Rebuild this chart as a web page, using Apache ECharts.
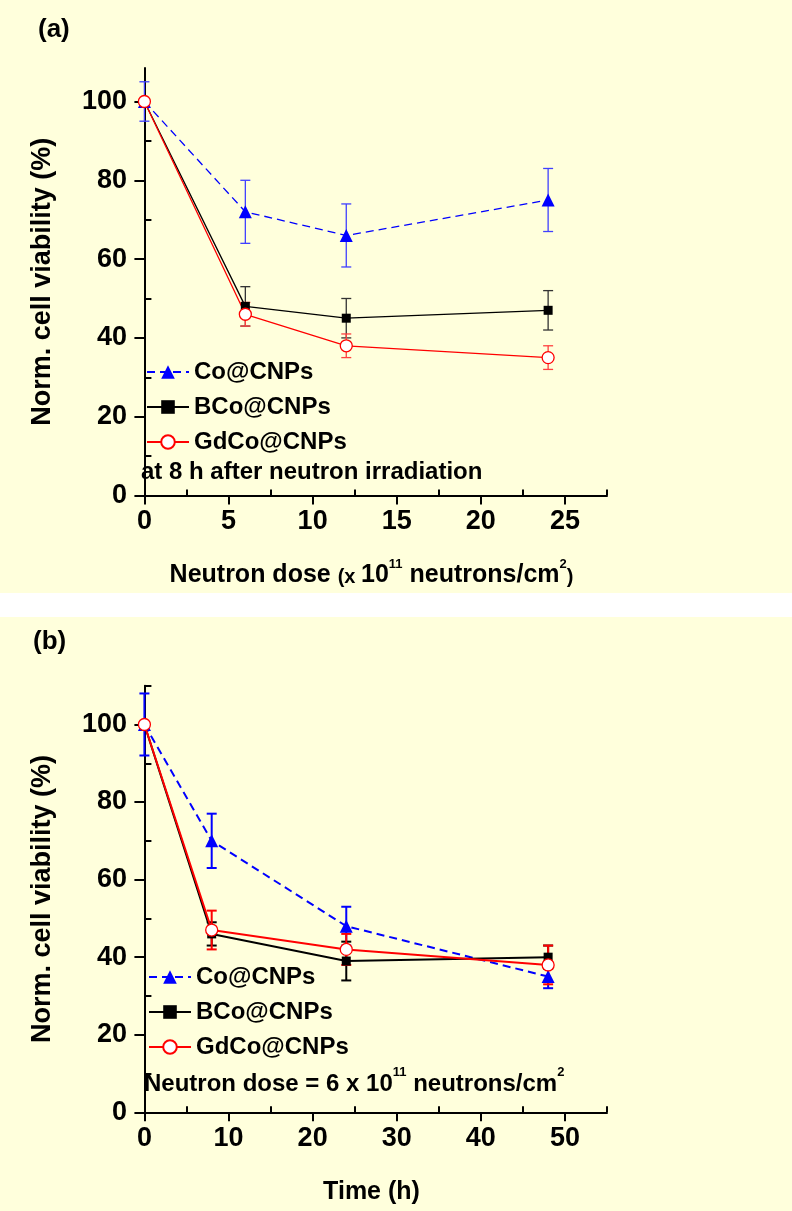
<!DOCTYPE html>
<html>
<head>
<meta charset="utf-8">
<script src="https://cdn.jsdelivr.net/npm/echarts@6/dist/echarts.min.js"></script>
<style>html,body{margin:0;padding:0;background:#fff}#c{width:792px;height:1211px}</style>
</head>
<body>
<div id="c"></div>
<script>
// ---- Panel (a): viability vs neutron dose (x 10^11 n/cm^2), 8 h after irradiation
const doseA = [0, 6, 12, 24];
const coA = [100, 72, 66, 75];
const coAErr = [5, 8, 8, 8];
const bcoA = [100, 48, 45, 47];
const bcoAErr = [0, 5, 5, 5];
const gdA = [100, 46, 38, 35];
const gdAErr = [0, 3, 3, 3];

// ---- Panel (b): viability vs time (h), dose 6 x 10^11 n/cm^2
const timeB = [0, 8, 24, 48];
const coB = [100, 70, 48, 35];
const coBErr = [8, 7, 5, 3];
const bcoB = [100, 46, 39, 40];
const bcoBErr = [0, 3, 5, 3];
const gdB = [100, 47, 42, 38];
const gdBErr = [0, 5, 4, 5];

// ---- Tick labels
const yTicks = [0, 20, 40, 60, 80, 100];
const yMinorA = [10, 30, 50, 70, 90];
const yMinorB = [10, 30, 50, 70, 90, 110];
const xTicksA = [0, 5, 10, 15, 20, 25];
const xMinorA = [2.5, 7.5, 12.5, 17.5, 22.5, 27.5];
const xTicksB = [0, 10, 20, 30, 40, 50];
const xMinorB = [5, 15, 25, 35, 45, 55];

const names = ['Co@CNPs', 'BCo@CNPs', 'GdCo@CNPs'];

const FONT = "'Liberation Sans', Arial, sans-serif";
const BG = '#FFFFDC';

const pairs = (xs, ys) => xs.map((x, i) => [x, ys[i]]);
const errs = (xs, ys, es) => xs.map((x, i) => [x, ys[i] - es[i], ys[i] + es[i]]).filter((d, i) => es[i] > 0);

function errSeries(xi, yi, data, color, width, cap) {
  return {
    type: 'custom', xAxisIndex: xi, yAxisIndex: yi, z: 1, silent: true,
    data: data,
    renderItem: function (params, api) {
      const x = api.value(0);
      const top = api.coord([x, api.value(2)]);
      const bot = api.coord([x, api.value(1)]);
      const st = { stroke: color, lineWidth: width };
      return {
        type: 'group',
        children: [
          { type: 'line', shape: { x1: top[0], y1: top[1], x2: bot[0], y2: bot[1] }, style: st },
          { type: 'line', shape: { x1: top[0] - cap, y1: top[1], x2: top[0] + cap, y2: top[1] }, style: st },
          { type: 'line', shape: { x1: bot[0] - cap, y1: bot[1], x2: bot[0] + cap, y2: bot[1] }, style: st }
        ]
      };
    }
  };
}

function lineSeries(name, xi, yi, data, kind, w) {
  const s = {
    name: name, type: 'line', xAxisIndex: xi, yAxisIndex: yi, z: 3,
    data: data, showSymbol: true
  };
  if (kind === 0) {
    s.symbol = 'triangle'; s.symbolSize = 13;
    s.lineStyle = { color: '#0000FF', width: w, type: [8, 5] };
    s.itemStyle = { color: '#0000FF' };
  } else if (kind === 1) {
    s.symbol = 'rect'; s.symbolSize = 9;
    s.lineStyle = { color: '#000000', width: w };
    s.itemStyle = { color: '#000000' };
  } else {
    s.symbol = 'circle'; s.symbolSize = 12;
    s.lineStyle = { color: '#FF0000', width: w };
    s.itemStyle = { color: '#FFFFFF', borderColor: '#FF0000', borderWidth: 1.3 };
  }
  return s;
}

const axLine = { show: true, lineStyle: { color: '#000', width: 2 } };
const lblStyle = { color: '#000', fontFamily: FONT, fontWeight: 'bold', fontSize: 27 };

function yMajor(gi, max, nameGap) {
  return {
    type: 'value', gridIndex: gi, min: 0, max: max,
    axisLine: axLine,
    axisTick: { show: true, length: 10, lineStyle: { color: '#000', width: 2 }, customValues: yTicks },
    axisLabel: Object.assign({ margin: 9, customValues: yTicks }, lblStyle),
    splitLine: { show: false },
    name: 'Norm. cell viability (%)', nameLocation: 'middle', nameRotate: 90, nameGap: nameGap,
    nameTextStyle: { color: '#000', fontFamily: FONT, fontWeight: 'bold', fontSize: 27 }
  };
}
function yMinor(gi, max, vals) {
  return {
    type: 'value', gridIndex: gi, min: 0, max: max,
    axisLine: { show: false },
    axisTick: { show: true, length: 7, lineStyle: { color: '#000', width: 2 }, customValues: vals },
    axisLabel: { show: false }, splitLine: { show: false }
  };
}
function xMajor(gi, min, max, ticks, name) {
  return {
    type: 'value', gridIndex: gi, min: min, max: max,
    axisLine: axLine,
    axisTick: { show: true, length: 9, lineStyle: { color: '#000', width: 2 }, customValues: ticks },
    axisLabel: Object.assign({ margin: 13, customValues: ticks }, lblStyle),
    splitLine: { show: false },
    name: name, nameLocation: 'middle', nameGap: 62,
    nameTextStyle: {
      color: '#000', fontFamily: FONT, fontWeight: 'bold', fontSize: 25,
      rich: {
        n: { fontFamily: FONT, fontWeight: 'bold', fontSize: 25, color: '#000', lineHeight: 30, verticalAlign: 'bottom' },
        s: { fontFamily: FONT, fontWeight: 'bold', fontSize: 20, color: '#000', lineHeight: 28, verticalAlign: 'bottom' },
        sup: { fontFamily: FONT, fontWeight: 'bold', fontSize: 13, color: '#000', lineHeight: 14, verticalAlign: 'top' }
      }
    }
  };
}
function xMinor(gi, min, max, vals) {
  return {
    type: 'value', gridIndex: gi, min: min, max: max,
    axisLine: { show: false },
    axisTick: { show: true, length: 6, lineStyle: { color: '#000', width: 2 }, customValues: vals },
    axisLabel: { show: false }, splitLine: { show: false }
  };
}

const legendBase = {
  orient: 'vertical', itemWidth: 42, itemHeight: 17, itemGap: 11,
  selectedMode: false, data: names,
  textStyle: { color: '#000', fontFamily: FONT, fontWeight: 'bold', fontSize: 24 }
};

const supRich = {
  t: { fontFamily: FONT, fontWeight: 'bold', fontSize: 24, fill: '#000', lineHeight: 30, verticalAlign: 'bottom' },
  sup: { fontFamily: FONT, fontWeight: 'bold', fontSize: 13, fill: '#000', lineHeight: 14, verticalAlign: 'top' }
};

const option = {
  animation: false,
  backgroundColor: BG,
  graphic: [
    { type: 'rect', shape: { x: 0, y: 593, width: 792, height: 24 }, style: { fill: '#FFFFFF' }, silent: true },
    { type: 'text', left: 38, top: 17, style: { text: '(a)', font: "bold 26px 'Liberation Sans', Arial", fill: '#000' } },
    { type: 'text', left: 33, top: 629, style: { text: '(b)', font: "bold 26px 'Liberation Sans', Arial", fill: '#000' } },
    { type: 'text', left: 141, top: 460, style: { text: 'at 8 h after neutron irradiation', font: "bold 24px 'Liberation Sans', Arial", fill: '#000' } },
    { type: 'text', left: 144, top: 1066, style: { text: '{t|Neutron dose = 6 x 10}{sup|11}{t| neutrons/cm}{sup|2}', rich: supRich } }
  ],
  grid: [
    { left: 136, top: 68, width: 471, height: 427.5 },
    { left: 136, top: 685.7, width: 471, height: 426.6 }
  ],
  legend: [
    Object.assign({ left: 141, top: 355 }, legendBase),
    Object.assign({ left: 143, top: 960 }, legendBase)
  ],
  xAxis: [
    xMajor(0, -0.5, 27.5, xTicksA, '{n|Neutron dose }{s|(x }{n|10}{sup|11}{n| neutrons/cm}{sup|2}{s|)}'),
    xMinor(0, -0.5, 27.5, xMinorA),
    xMajor(1, -1, 55, xTicksB, '{n|Time (h)}'),
    xMinor(1, -1, 55, xMinorB)
  ],
  yAxis: [
    yMajor(0, 108.5, 80),
    yMinor(0, 108.5, yMinorA),
    yMajor(1, 110, 80),
    yMinor(1, 110, yMinorB)
  ],
  series: [
    errSeries(0, 0, errs(doseA, coA, coAErr), '#4040FF', 1.3, 5),
    errSeries(0, 0, errs(doseA, bcoA, bcoAErr), '#333333', 1.3, 5),
    errSeries(0, 0, errs(doseA, gdA, gdAErr), '#FF4040', 1.3, 5),
    lineSeries(names[0], 0, 0, pairs(doseA, coA), 0, 1.3),
    lineSeries(names[1], 0, 0, pairs(doseA, bcoA), 1, 1.3),
    lineSeries(names[2], 0, 0, pairs(doseA, gdA), 2, 1.3),
    errSeries(2, 2, errs(timeB, coB, coBErr), '#0000FF', 2, 5),
    errSeries(2, 2, errs(timeB, bcoB, bcoBErr), '#000000', 2, 5),
    errSeries(2, 2, errs(timeB, gdB, gdBErr), '#FF0000', 2, 5),
    lineSeries(names[0], 2, 2, pairs(timeB, coB), 0, 2),
    lineSeries(names[1], 2, 2, pairs(timeB, bcoB), 1, 2),
    lineSeries(names[2], 2, 2, pairs(timeB, gdB), 2, 2)
  ]
};

const chart = echarts.init(document.getElementById('c'), null, { renderer: 'canvas' });
chart.setOption(option);
</script>
</body>
</html>
